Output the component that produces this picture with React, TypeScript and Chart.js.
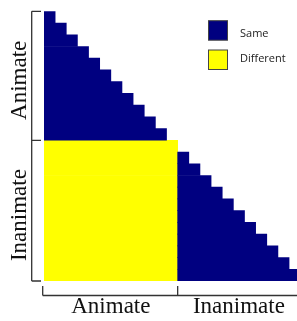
import { useEffect, useRef } from 'react';
import { Chart, registerables } from 'chart.js';

Chart.register(...registerables);

// Items of the matrix (lower triangle without diagonal)
const columnItems = ['A1', 'A2', 'A3', 'A4', 'A5', 'A6', 'A7', 'A8', 'A9', 'A10', 'A11', 'A12',
  'I1', 'I2', 'I3', 'I4', 'I5', 'I6', 'I7', 'I8', 'I9', 'I10', 'I11'];
const rowItems = ['A2', 'A3', 'A4', 'A5', 'A6', 'A7', 'A8', 'A9', 'A10', 'A11', 'A12',
  'I1', 'I2', 'I3', 'I4', 'I5', 'I6', 'I7', 'I8', 'I9', 'I10', 'I11', 'I12'];

const groupNames = ['Animate', 'Inanimate'];
const columnGroupBounds = [0, 12, 23];
const rowGroupBounds = [0, 11, 23];

const seriesNames = ['Same', 'Different'];

// Column spans [start, end) per row
const sameSpans: ([number, number] | null)[] = [
  [0, 1], [0, 2], [0, 3], [0, 4], [0, 5], [0, 6], [0, 7], [0, 8], [0, 9], [0, 10], [0, 11],
  null, [12, 13], [12, 14], [12, 15], [12, 16], [12, 17], [12, 18], [12, 19], [12, 20], [12, 21], [12, 22], [12, 23],
];
const differentSpans: ([number, number] | null)[] = [
  null, null, null, null, null, null, null, null, null, null, null,
  [0, 12], [0, 12], [0, 12], [0, 12], [0, 12], [0, 12], [0, 12], [0, 12], [0, 12], [0, 12], [0, 12], [0, 12],
];

const seriesColors = ['#000080', '#ffff00'];

const annotationPlugin = {
  id: 'brackets',
  afterDraw(chart: any) {
    const ctx = chart.ctx as CanvasRenderingContext2D;
    const xs = chart.scales.x;
    const ys = chart.scales.y;
    const rowPix = (b: number) => ys.getPixelForValue(b - 0.5);
    const colPix = (b: number) => xs.getPixelForValue(b);
    ctx.save();
    ctx.strokeStyle = '#333';
    ctx.lineWidth = 1.3;
    // left bracket
    const lx = 31.7;
    ctx.beginPath();
    ctx.moveTo(lx, rowPix(rowGroupBounds[0]));
    ctx.lineTo(lx, rowPix(rowGroupBounds[rowGroupBounds.length - 1]));
    rowGroupBounds.forEach((b) => {
      const y = rowPix(b);
      ctx.moveTo(lx, y);
      ctx.lineTo(41, y);
    });
    ctx.stroke();
    // bottom bracket
    const by = 295.5;
    ctx.beginPath();
    ctx.moveTo(colPix(columnGroupBounds[0]) - 1.3, by);
    ctx.lineTo(colPix(columnGroupBounds[columnGroupBounds.length - 1]), by);
    columnGroupBounds.forEach((b, i) => {
      const x = colPix(b) - (i === 0 ? 1.3 : 0);
      ctx.moveTo(x, 286);
      ctx.lineTo(x, by);
    });
    ctx.stroke();

    // group labels
    ctx.fillStyle = '#111';
    ctx.font = '23px "Liberation Serif", "Times New Roman", serif';
    ctx.textAlign = 'center';
    ctx.textBaseline = 'alphabetic';
    groupNames.forEach((name, i) => {
      const cx = (colPix(columnGroupBounds[i]) + colPix(columnGroupBounds[i + 1])) / 2;
      ctx.fillText(name, cx, 313.3);
      const cy = (rowPix(rowGroupBounds[i]) + rowPix(rowGroupBounds[i + 1])) / 2 + 4.5;
      ctx.save();
      ctx.translate(26, cy);
      ctx.rotate(-Math.PI / 2);
      ctx.fillText(name, 0, 0);
      ctx.restore();
    });

    // legend
    ctx.font = '11px "Open Sans", sans-serif';
    ctx.textAlign = 'left';
    chart.data.datasets.forEach((ds: any, i: number) => {
      const top = 20.7 + i * 29.3;
      ctx.fillStyle = ds.backgroundColor;
      ctx.fillRect(208.5, top, 19, 19.5);
      ctx.strokeStyle = '#444';
      ctx.lineWidth = 1;
      ctx.strokeRect(208.5, top, 19, 19.5);
      ctx.fillStyle = '#222';
      ctx.fillText(ds.label, 240, 37 + i * 25);
    });
    ctx.restore();
  },
};

export default function App() {
  const ref = useRef<HTMLCanvasElement>(null);
  useEffect(() => {
    if (!ref.current) return;
    const chart = new Chart(ref.current, {
      type: 'bar',
      data: {
        labels: rowItems,
        datasets: [
          { label: seriesNames[0], data: sameSpans as any, backgroundColor: seriesColors[0], grouped: false, borderWidth: 0 },
          { label: seriesNames[1], data: differentSpans as any, backgroundColor: seriesColors[1], grouped: false, borderWidth: 0 },
        ],
      },
      options: {
        indexAxis: 'y',
        responsive: false,
        animation: false,
        layout: { padding: { left: 44, top: 11.3, right: 9.8, bottom: 40 } },
        datasets: { bar: { barPercentage: 1, categoryPercentage: 1 } },
        scales: {
          x: { type: 'linear', min: 0, max: columnItems.length, display: false },
          y: { type: 'category', display: false },
        },
        plugins: { legend: { display: false }, tooltip: { enabled: false } },
      },
      plugins: [annotationPlugin],
    });
    return () => chart.destroy();
  }, []);
  return (
    <div style={{ position: 'absolute', left: 0, top: 0, width: 297, height: 321, overflow: 'hidden', background: '#fff' }}>
      <canvas ref={ref} width={310} height={321} style={{ display: 'block' }} />
    </div>
  );
}
